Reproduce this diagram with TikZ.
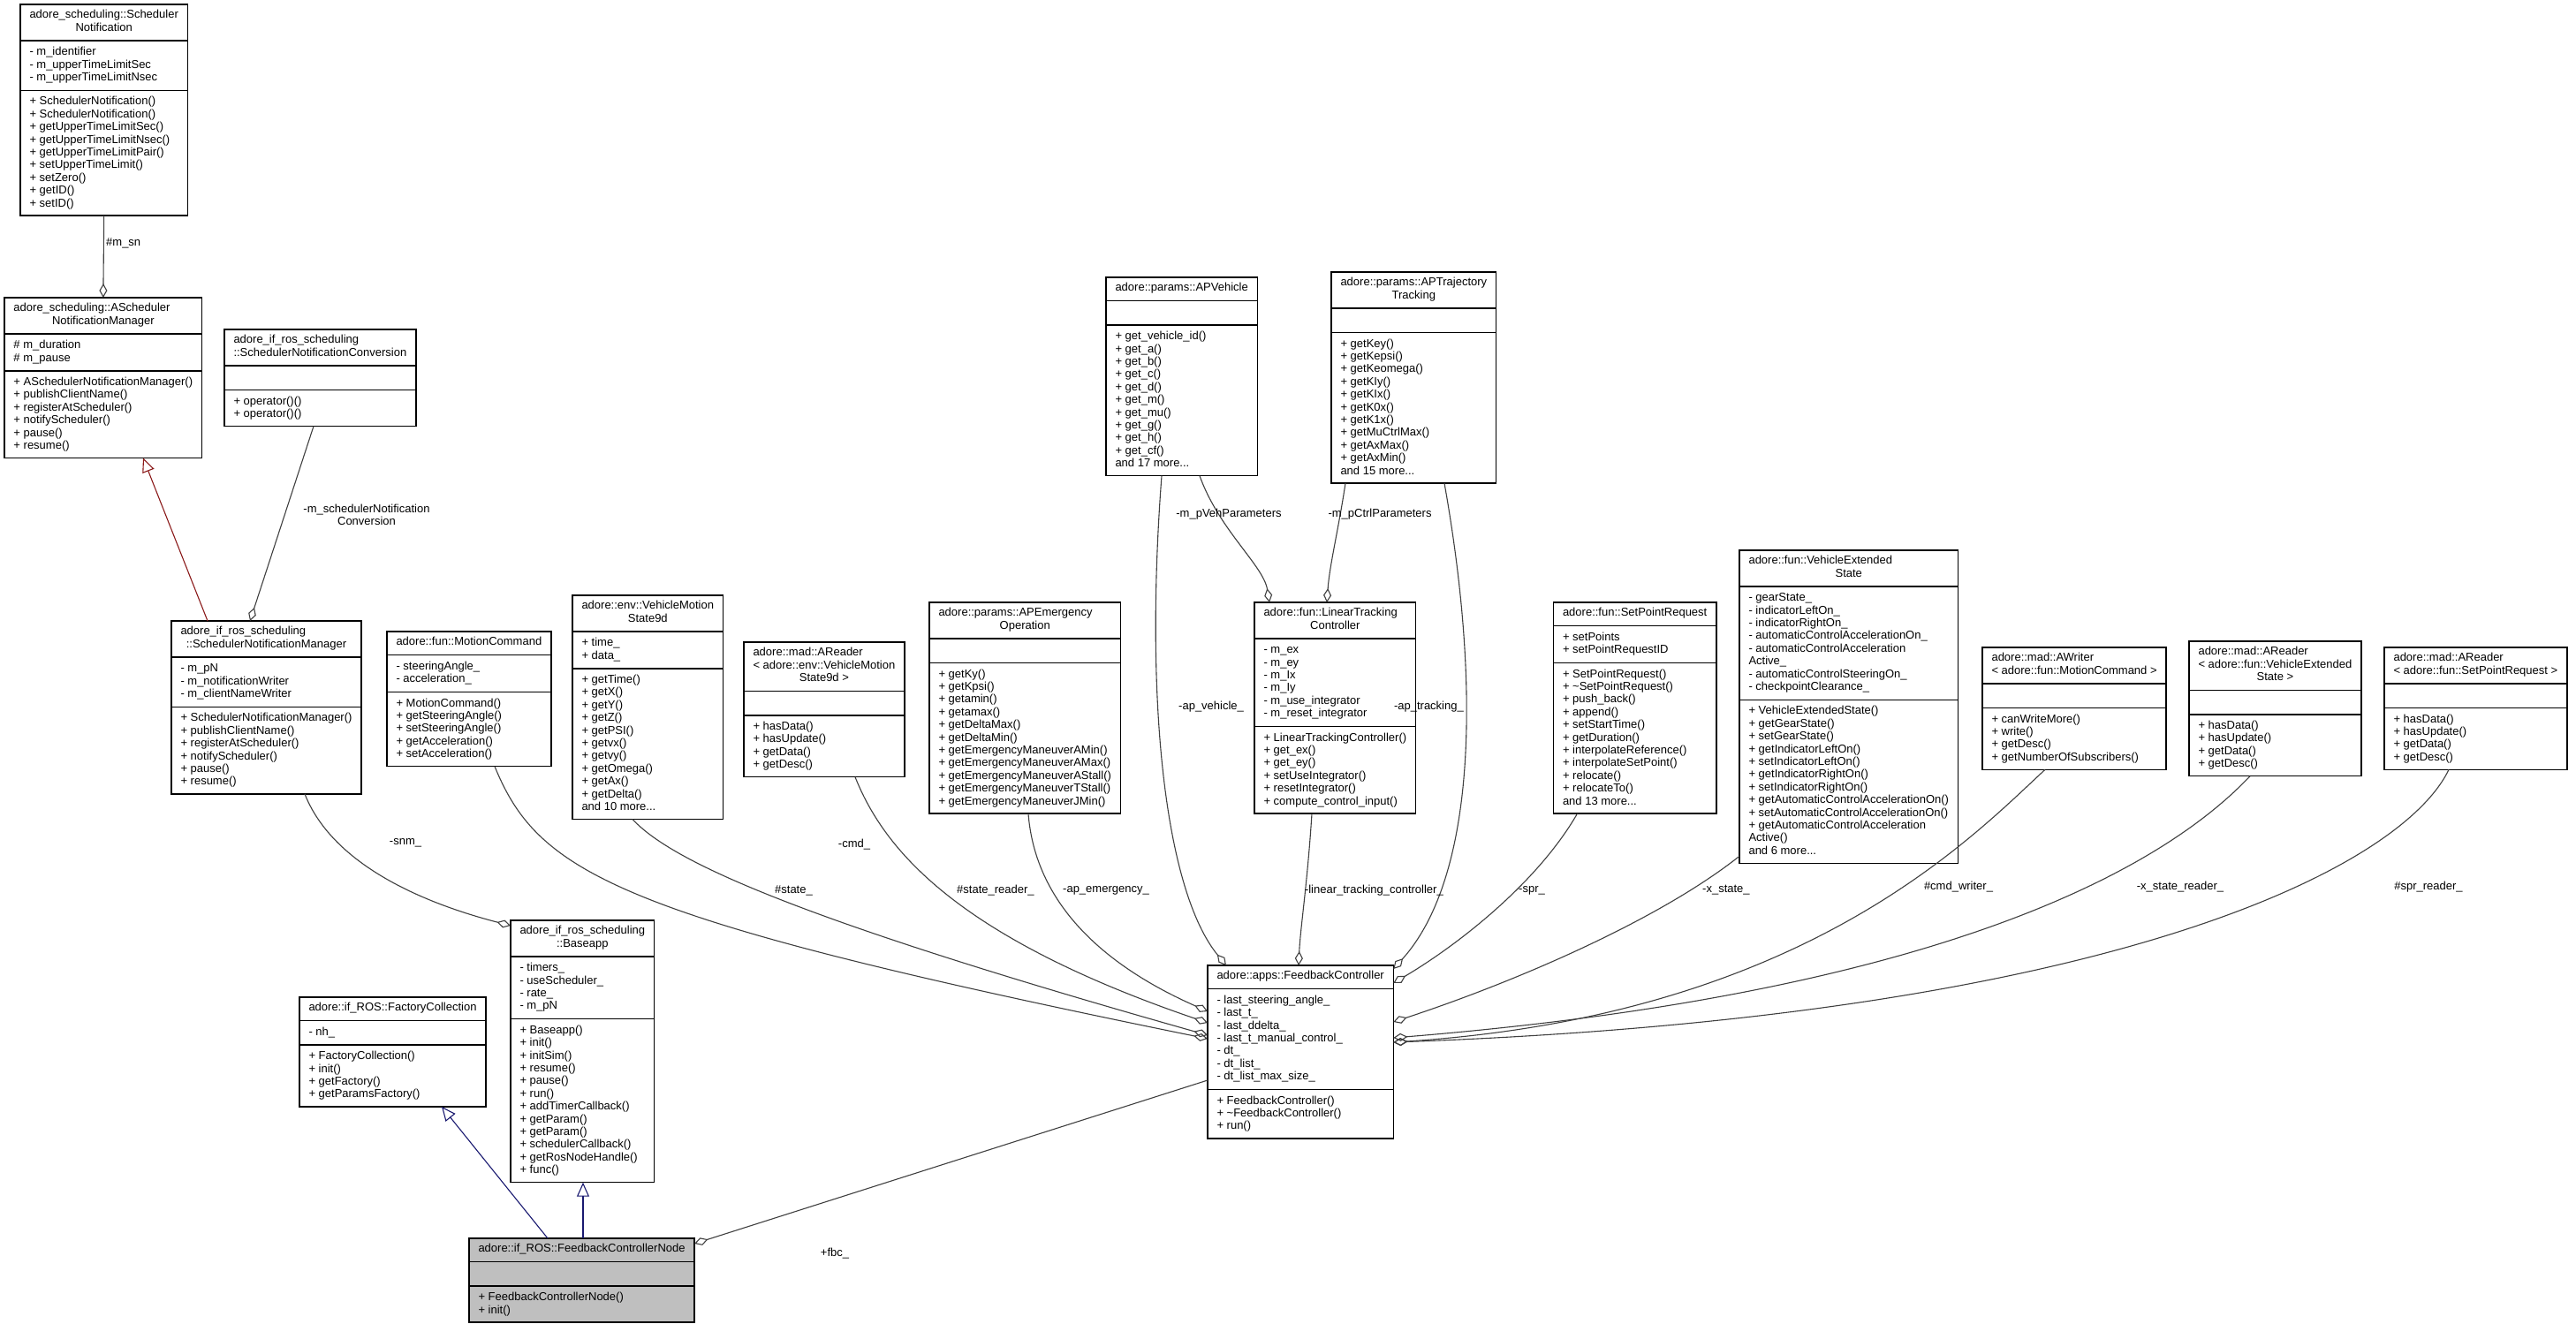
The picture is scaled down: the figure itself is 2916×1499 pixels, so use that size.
\documentclass[tikz,border=0pt]{standalone}
\usepackage{fontspec}
\setmainfont{Liberation Sans}
\usetikzlibrary{arrows.meta}
\definecolor{edgegray}{HTML}{404040}
\definecolor{inhblue}{HTML}{191970}
\definecolor{inhred}{HTML}{8B1A1A}
\definecolor{nodegray}{HTML}{BFBFBF}
\setlength{\arrayrulewidth}{1.5pt}
\newcommand{\vpad}{\noalign{\vskip5.75pt}}
\newcommand{\secsep}{\vpad\hline\vpad}
\newcommand{\emptysec}{\vpad\hline\noalign{\vskip25.9pt}\hline\vpad}
\newcommand{\ctline}[1]{\multicolumn{1}{@{\hspace{10.5pt}}c@{\hspace{10.5pt}}}{#1}}
\newenvironment{uml}{\begin{tabular}{@{\hspace{10.5pt}}l@{\hspace{10.5pt}}}\vpad}{\vpad\end{tabular}}
\begin{document}
\begin{tikzpicture}[x=1pt,y=-1pt,
  umlbox/.style={draw=black, line width=1.5pt, inner sep=0pt, outer sep=0pt, anchor=north west, font=\fontsize{13}{14.4}\selectfont},
  lbl/.style={inner sep=0pt, font=\fontsize{13}{14.4}\selectfont, align=center},
  coll/.style={draw=edgegray, line width=1.1pt, -{Diamond[open, length=16pt, width=9pt]}},
  inhr/.style={draw=inhred, line width=1.1pt, -{Triangle[open, length=16pt, width=14pt]}},
  inhb/.style={draw=inhblue, line width=1.1pt, -{Triangle[open, length=16pt, width=14pt]}}]
\fill[white] (0,0) rectangle (2916,1499);
\useasboundingbox (0,0) rectangle (2916,1499);

\node[umlbox] (A) at (23,5) {\begin{uml}
adore\_scheduling::Scheduler\\ \ctline{Notification}\\ \secsep
- m\_identifier\\ - m\_upperTimeLimitSec\\ - m\_upperTimeLimitNsec\\ \secsep
+ SchedulerNotification()\\ + SchedulerNotification()\\ + getUpperTimeLimitSec()\\ + getUpperTimeLimitNsec()\\ + getUpperTimeLimitPair()\\ + setUpperTimeLimit()\\ + setZero()\\ + getID()\\ + setID()\\
\end{uml}};

\node[umlbox] (B) at (5,337) {\begin{uml}
adore\_scheduling::AScheduler\\ \ctline{NotificationManager}\\ \secsep
\# m\_duration\\ \# m\_pause\\ \secsep
+ ASchedulerNotificationManager()\\ + publishClientName()\\ + registerAtScheduler()\\ + notifyScheduler()\\ + pause()\\ + resume()\\
\end{uml}};

\node[umlbox] (C) at (254,373) {\begin{uml}
adore\_if\_ros\_scheduling\\ \ctline{::SchedulerNotificationConversion}\\ \emptysec
+ operator()()\\ + operator()()\\
\end{uml}};

\node[umlbox] (D) at (194,703) {\begin{uml}
adore\_if\_ros\_scheduling\\ \ctline{::SchedulerNotificationManager}\\ \secsep
- m\_pN\\ - m\_notificationWriter\\ - m\_clientNameWriter\\ \secsep
+ SchedulerNotificationManager()\\ + publishClientName()\\ + registerAtScheduler()\\ + notifyScheduler()\\ + pause()\\ + resume()\\
\end{uml}};

\node[umlbox] (E) at (438,715) {\begin{uml}
\ctline{adore::fun::MotionCommand}\\ \secsep
- steeringAngle\_\\ - acceleration\_\\ \secsep
+ MotionCommand()\\ + getSteeringAngle()\\ + setSteeringAngle()\\ + getAcceleration()\\ + setAcceleration()\\
\end{uml}};

\node[umlbox] (F) at (648,674) {\begin{uml}
adore::env::VehicleMotion\\ \ctline{State9d}\\ \secsep
+ time\_\\ + data\_\\ \secsep
+ getTime()\\ + getX()\\ + getY()\\ + getZ()\\ + getPSI()\\ + getvx()\\ + getvy()\\ + getOmega()\\ + getAx()\\ + getDelta()\\ and 10 more...\\
\end{uml}};

\node[umlbox] (G) at (842,727) {\begin{uml}
adore::mad::AReader\\ < adore::env::VehicleMotion\\ \ctline{State9d >}\\ \emptysec
+ hasData()\\ + hasUpdate()\\ + getData()\\ + getDesc()\\
\end{uml}};

\node[umlbox] (H) at (1052,682) {\begin{uml}
adore::params::APEmergency\\ \ctline{Operation}\\ \emptysec
+ getKy()\\ + getKpsi()\\ + getamin()\\ + getamax()\\ + getDeltaMax()\\ + getDeltaMin()\\ + getEmergencyManeuverAMin()\\ + getEmergencyManeuverAMax()\\ + getEmergencyManeuverAStall()\\ + getEmergencyManeuverTStall()\\ + getEmergencyManeuverJMin()\\
\end{uml}};

\node[umlbox] (I) at (1420,682) {\begin{uml}
adore::fun::LinearTracking\\ \ctline{Controller}\\ \secsep
- m\_ex\\ - m\_ey\\ - m\_Ix\\ - m\_Iy\\ - m\_use\_integrator\\ - m\_reset\_integrator\\ \secsep
+ LinearTrackingController()\\ + get\_ex()\\ + get\_ey()\\ + setUseIntegrator()\\ + resetIntegrator()\\ + compute\_control\_input()\\
\end{uml}};

\node[umlbox] (J) at (1252,314) {\begin{uml}
\ctline{adore::params::APVehicle}\\ \emptysec
+ get\_vehicle\_id()\\ + get\_a()\\ + get\_b()\\ + get\_c()\\ + get\_d()\\ + get\_m()\\ + get\_mu()\\ + get\_g()\\ + get\_h()\\ + get\_cf()\\ and 17 more...\\
\end{uml}};

\node[umlbox] (K) at (1507,308) {\begin{uml}
adore::params::APTrajectory\\ \ctline{Tracking}\\ \emptysec
+ getKey()\\ + getKepsi()\\ + getKeomega()\\ + getKIy()\\ + getKIx()\\ + getK0x()\\ + getK1x()\\ + getMuCtrlMax()\\ + getAxMax()\\ + getAxMin()\\ and 15 more...\\
\end{uml}};

\node[umlbox] (L) at (1758.5,682) {\begin{uml}
\ctline{adore::fun::SetPointRequest}\\ \secsep
+ setPoints\\ + setPointRequestID\\ \secsep
+ SetPointRequest()\\ + \textasciitilde SetPointRequest()\\ + push\_back()\\ + append()\\ + setStartTime()\\ + getDuration()\\ + interpolateReference()\\ + interpolateSetPoint()\\ + relocate()\\ + relocateTo()\\ and 13 more...\\
\end{uml}};

\node[umlbox] (M) at (1969,623) {\begin{uml}
adore::fun::VehicleExtended\\ \ctline{State}\\ \secsep
- gearState\_\\ - indicatorLeftOn\_\\ - indicatorRightOn\_\\ - automaticControlAccelerationOn\_\\ - automaticControlAcceleration\\ Active\_\\ - automaticControlSteeringOn\_\\ - checkpointClearance\_\\ \secsep
+ VehicleExtendedState()\\ + getGearState()\\ + setGearState()\\ + getIndicatorLeftOn()\\ + setIndicatorLeftOn()\\ + getIndicatorRightOn()\\ + setIndicatorRightOn()\\ + getAutomaticControlAccelerationOn()\\ + setAutomaticControlAccelerationOn()\\ + getAutomaticControlAcceleration\\ Active()\\ and 6 more...\\
\end{uml}};

\node[umlbox] (N) at (2244,733) {\begin{uml}
adore::mad::AWriter\\ \ctline{< adore::fun::MotionCommand >}\\ \emptysec
+ canWriteMore()\\ + write()\\ + getDesc()\\ + getNumberOfSubscribers()\\
\end{uml}};

\node[umlbox] (O) at (2478,726) {\begin{uml}
adore::mad::AReader\\ < adore::fun::VehicleExtended\\ \ctline{State >}\\ \emptysec
+ hasData()\\ + hasUpdate()\\ + getData()\\ + getDesc()\\
\end{uml}};

\node[umlbox] (P) at (2699,733) {\begin{uml}
adore::mad::AReader\\ \ctline{< adore::fun::SetPointRequest >}\\ \emptysec
+ hasData()\\ + hasUpdate()\\ + getData()\\ + getDesc()\\
\end{uml}};

\node[umlbox] (Q) at (578,1042) {\begin{uml}
adore\_if\_ros\_scheduling\\ \ctline{::Baseapp}\\ \secsep
- timers\_\\ - useScheduler\_\\ - rate\_\\ - m\_pN\\ \secsep
+ Baseapp()\\ + init()\\ + initSim()\\ + resume()\\ + pause()\\ + run()\\ + addTimerCallback()\\ + getParam()\\ + getParam()\\ + schedulerCallback()\\ + getRosNodeHandle()\\ + func()\\
\end{uml}};

\node[umlbox] (R) at (339,1129) {\begin{uml}
\ctline{adore::if\_ROS::FactoryCollection}\\ \secsep
- nh\_\\ \secsep
+ FactoryCollection()\\ + init()\\ + getFactory()\\ + getParamsFactory()\\
\end{uml}};

\node[umlbox] (S) at (1367,1093) {\begin{uml}
\ctline{adore::apps::FeedbackController}\\ \secsep
- last\_steering\_angle\_\\ - last\_t\_\\ - last\_ddelta\_\\ - last\_t\_manual\_control\_\\ - dt\_\\ - dt\_list\_\\ - dt\_list\_max\_size\_\\ \secsep
+ FeedbackController()\\ + \textasciitilde FeedbackController()\\ + run()\\
\end{uml}};

\node[umlbox, fill=nodegray] (T) at (531,1402) {\begin{uml}
\ctline{adore::if\_ROS::FeedbackControllerNode}\\ \emptysec
+ FeedbackControllerNode()\\ + init()\\
\end{uml}};

% connectors
\draw[coll] (A.south) -- (B.north);
\draw[inhr] ([xshift=41pt]D.north west) -- ([xshift=157pt]B.south west);
\draw[coll] ([xshift=101pt]C.south west) -- ([xshift=89pt]D.north west);
\draw[coll] ([xshift=151pt]D.south west) .. controls (375,975) and (470,1020) .. ([yshift=-6pt]Q.north west);
\draw[coll] ([xshift=122pt]E.south west) .. controls (610,990) and (700,1040) .. ([yshift=-83pt]S.north west);
\draw[coll] ([xshift=68pt]F.south west) .. controls (760,975) and (900,1040) .. ([yshift=-79pt]S.north west);
\draw[coll] ([xshift=126pt]G.south west) .. controls (1000,960) and (1080,1060) .. ([yshift=-65pt]S.north west);
\draw[coll] ([xshift=112pt]H.south west) .. controls (1170,1000) and (1220,1080) .. ([yshift=-52pt]S.north west);
\draw[coll] ([xshift=63pt]J.south west) .. controls (1295,800) and (1320,1010) .. ([xshift=21pt]S.north west);
\draw[coll] ([xshift=106pt]J.south west) .. controls (1380,600) and (1430,640) .. ([xshift=17pt]I.north west);
\draw[coll] ([xshift=16pt]K.south west) .. controls (1515,600) and (1505,640) .. ([xshift=82pt]I.north west);
\draw[coll] ([xshift=128pt]K.south west) .. controls (1680,800) and (1665,1000) .. ([yshift=-4pt]S.north east);
\draw[coll] ([xshift=65pt]I.south west) .. controls (1480,1000) and (1472,1050) .. ([xshift=103pt]S.north west);
\draw[coll] ([xshift=27pt]L.south west) .. controls (1740,1000) and (1650,1070) .. ([yshift=-20pt]S.north east);
\draw[coll] ([yshift=8pt]M.south west) .. controls (1880,1040) and (1720,1110) .. ([yshift=-64pt]S.north east);
\draw[coll] ([xshift=71pt]N.south west) .. controls (2230,950) and (2040,1150) .. ([yshift=-87pt]S.north east);
\draw[coll] ([xshift=69pt]O.south west) .. controls (2470,960) and (2250,1120) .. ([yshift=-82pt]S.north east);
\draw[coll] ([xshift=73pt]P.south west) .. controls (2720,980) and (2400,1150) .. ([yshift=-87pt]S.north east);
\draw[coll] ([yshift=-130pt]S.north west) -- ([yshift=-6pt]T.north east);
\draw[inhb] ([xshift=89pt]T.north west) -- ([xshift=161pt]R.south west);
\draw[inhb] ([xshift=129pt]T.north west) -- ([xshift=82pt]Q.south west);

% labels
\node[lbl, anchor=west] (Lmsn) at (120,275) {\#m\_sn};
\node[lbl] (Lconv) at (415,583) {-m\_schedulerNotification\\Conversion};
\node[lbl] (Lsnm) at (459,954) {-snm\_};
\node[lbl] (Lcmd) at (967,956) {-cmd\_};
\node[lbl, anchor=east] (Lstate) at (920,1008) {\#state\_};
\node[lbl, anchor=west] (Lsr) at (1083,1008) {\#state\_reader\_};
\node[lbl, anchor=west] (Lape) at (1203,1008) {-ap\_emergency\_};
\node[lbl, anchor=west] (Lapv) at (1334,800) {-ap\_vehicle\_};
\node[lbl] (Lveh) at (1391,582) {-m\_pVehParameters};
\node[lbl] (Lctrl) at (1562,582) {-m\_pCtrlParameters};
\node[lbl, anchor=east] (Lapt) at (1657,800) {-ap\_tracking\_};
\node[lbl, anchor=east] (Lltc) at (1634,1008) {-linear\_tracking\_controller\_};
\node[lbl, anchor=west] (Lspr) at (1719,1008) {-spr\_};
\node[lbl, anchor=west] (Lxs) at (1927,1008) {-x\_state\_};
\node[lbl] (Lcw) at (2217,1004) {\#cmd\_writer\_};
\node[lbl] (Lxsr) at (2468,1004) {-x\_state\_reader\_};
\node[lbl] (Lsprr) at (2749,1004) {\#spr\_reader\_};
\node[lbl] (Lfbc) at (945,1419) {+fbc\_};
\end{tikzpicture}
\end{document}
